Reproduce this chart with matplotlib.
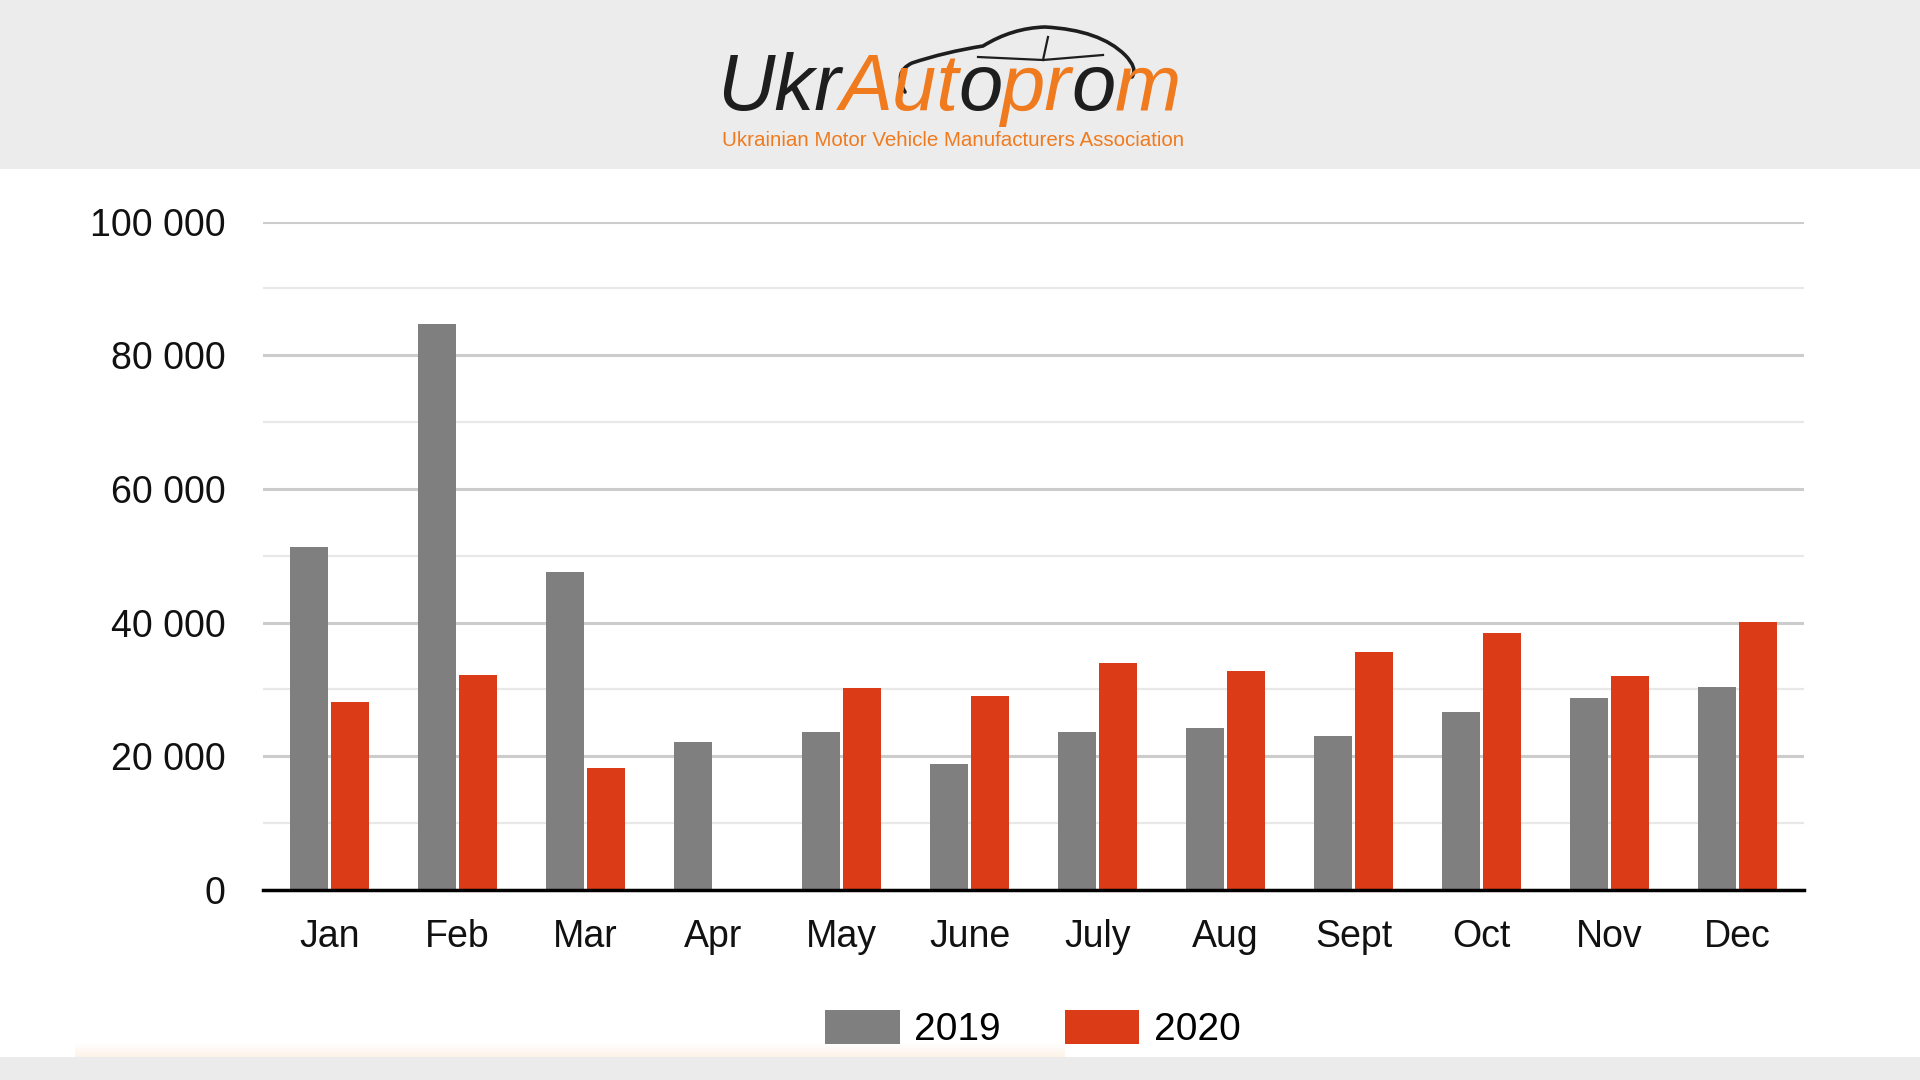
import matplotlib
matplotlib.use("Agg")
import matplotlib.pyplot as plt
from matplotlib.patches import Rectangle, PathPatch
from matplotlib.path import Path
from matplotlib.ticker import MultipleLocator, FuncFormatter
import numpy as np

# monthly values
months = ["Jan", "Feb", "Mar", "Apr", "May", "June", "July", "Aug", "Sept", "Oct", "Nov", "Dec"]
sales_2019 = [51300, 84700, 47600, 22200, 23700, 18900, 23700, 24200, 23000, 26650, 28700, 30350]
sales_2020 = [28200, 32200, 18300, 0, 30250, 29000, 33900, 32700, 35600, 38500, 31950, 40150]
series_labels = ["2019", "2020"]

GRAY = "#7f7f7f"
RED = "#dc3b18"
ORANGE = "#f07a1e"
INK = "#1e1e1e"
W, H = 1920, 1080

plt.rcParams["font.family"] = ["Liberation Sans", "DejaVu Sans"]

fig = plt.figure(figsize=(W / 100, H / 100), dpi=100)
fig.patch.set_facecolor("white")


def fx(px):
    return px / W


def fy(py):
    return 1 - py / H


# header band and bottom band
fig.add_artist(Rectangle((0, fy(169)), 1, 169 / H, transform=fig.transFigure,
                         facecolor="#ececec", edgecolor="none", zorder=0))
fig.add_artist(Rectangle((0, 0), 1, 23 / H, transform=fig.transFigure,
                         facecolor="#ebebeb", edgecolor="none", zorder=0))

# faint warm strip above the bottom band
strip = fig.add_axes([fx(75), fy(1057), fx(1065) - fx(75), 14 / H], zorder=0)
grad = np.linspace(0, 1, 32).reshape(-1, 1)
strip.imshow(grad, aspect="auto", cmap=matplotlib.colors.LinearSegmentedColormap.from_list(
    "warm", ["#ffffff", "#fdf2e8"]), origin="upper")
strip.axis("off")

# chart
ax = fig.add_axes([fx(263), fy(890), fx(1804) - fx(263), fy(221.6) - fy(890)])
x = np.arange(len(months))
bw = 0.297
off = 0.1625
ax.bar(x - off, sales_2019, width=bw, color=GRAY, label=series_labels[0], zorder=3)
ax.bar(x + off, sales_2020, width=bw, color=RED, label=series_labels[1], zorder=3)

ax.set_xlim(-0.52, len(months) - 0.48)
ax.set_ylim(0, 100000)
ax.yaxis.set_major_locator(MultipleLocator(20000))
ax.yaxis.set_minor_locator(MultipleLocator(10000))
ax.yaxis.set_major_formatter(FuncFormatter(lambda v, p: f"{int(v):,}".replace(",", " ")))
ax.grid(axis="y", which="major", color="#cccccc", linewidth=2.2, zorder=0)
ax.grid(axis="y", which="minor", color="#e8e8e8", linewidth=1.6, zorder=0)
ax.set_axisbelow(True)

for s in ["top", "right", "left"]:
    ax.spines[s].set_visible(False)
ax.spines["bottom"].set_color("black")
ax.spines["bottom"].set_linewidth(2.5)
ax.spines["bottom"].set_zorder(4)

ax.set_xticks(x)
ax.set_xticklabels(months)
ax.tick_params(axis="both", which="both", length=0, labelsize=27, colors="#111111")
ax.tick_params(axis="y", pad=27)
ax.tick_params(axis="x", pad=21)
ax.set_facecolor("white")

leg = fig.legend(loc="center", bbox_to_anchor=(fx(1033), fy(1029)), ncol=2, frameon=False,
                 fontsize=28, handlelength=1.92, handleheight=1.0, handletextpad=0.38,
                 columnspacing=1.64, borderaxespad=0)

# logo: Ukr + Autoprom, the two o's are dark like the car outline
r = fig.canvas.get_renderer()
logo_parts = [("Ukr", INK), ("Aut", ORANGE), ("o", INK), ("pr", ORANGE), ("o", INK), ("m", ORANGE)]


def place_logo(size):
    xpos = 717
    texts = []
    for s, c in logo_parts:
        t = fig.text(fx(xpos), fy(110), s, fontsize=size, style="italic", color=c,
                     ha="left", va="baseline")
        e = t.get_window_extent(renderer=r)
        xpos = e.x1 - 1
        texts.append(t)
    return texts, xpos


texts, xend = place_logo(56)
scale = (1179 - 717) / (xend - 717)
for t in texts:
    t.remove()
place_logo(56 * scale)

sub = fig.text(fx(722), fy(140), "Ukrainian Motor Vehicle Manufacturers Association",
               fontsize=13, color=ORANGE, ha="left", va="center")
es = sub.get_window_extent(renderer=r)
sub.set_fontsize(13 * (1185 - 722) / es.width)

# car outline over the logo
car_pts = [(905, 92), (893, 72), (912, 63), (945, 52), (983, 46),
           (1012, 28), (1045, 27), (1100, 30), (1125, 55), (1138, 68), (1132, 77)]
car_codes = [Path.MOVETO] + [Path.CURVE3] * 10
car = Path([(fx(a), fy(b)) for a, b in car_pts], car_codes)
fig.add_artist(PathPatch(car, transform=fig.transFigure, facecolor="none",
                         edgecolor=INK, linewidth=2.6, capstyle="round"))
fig.add_artist(plt.Line2D([fx(978), fx(1043), fx(1103)], [fy(57), fy(60), fy(55)],
                          transform=fig.transFigure, color=INK, linewidth=1.6))
fig.add_artist(plt.Line2D([fx(1048), fx(1043)], [fy(37), fy(60)],
                          transform=fig.transFigure, color=INK, linewidth=1.6))

fig.savefig("out.png", dpi=100, facecolor=fig.get_facecolor())
